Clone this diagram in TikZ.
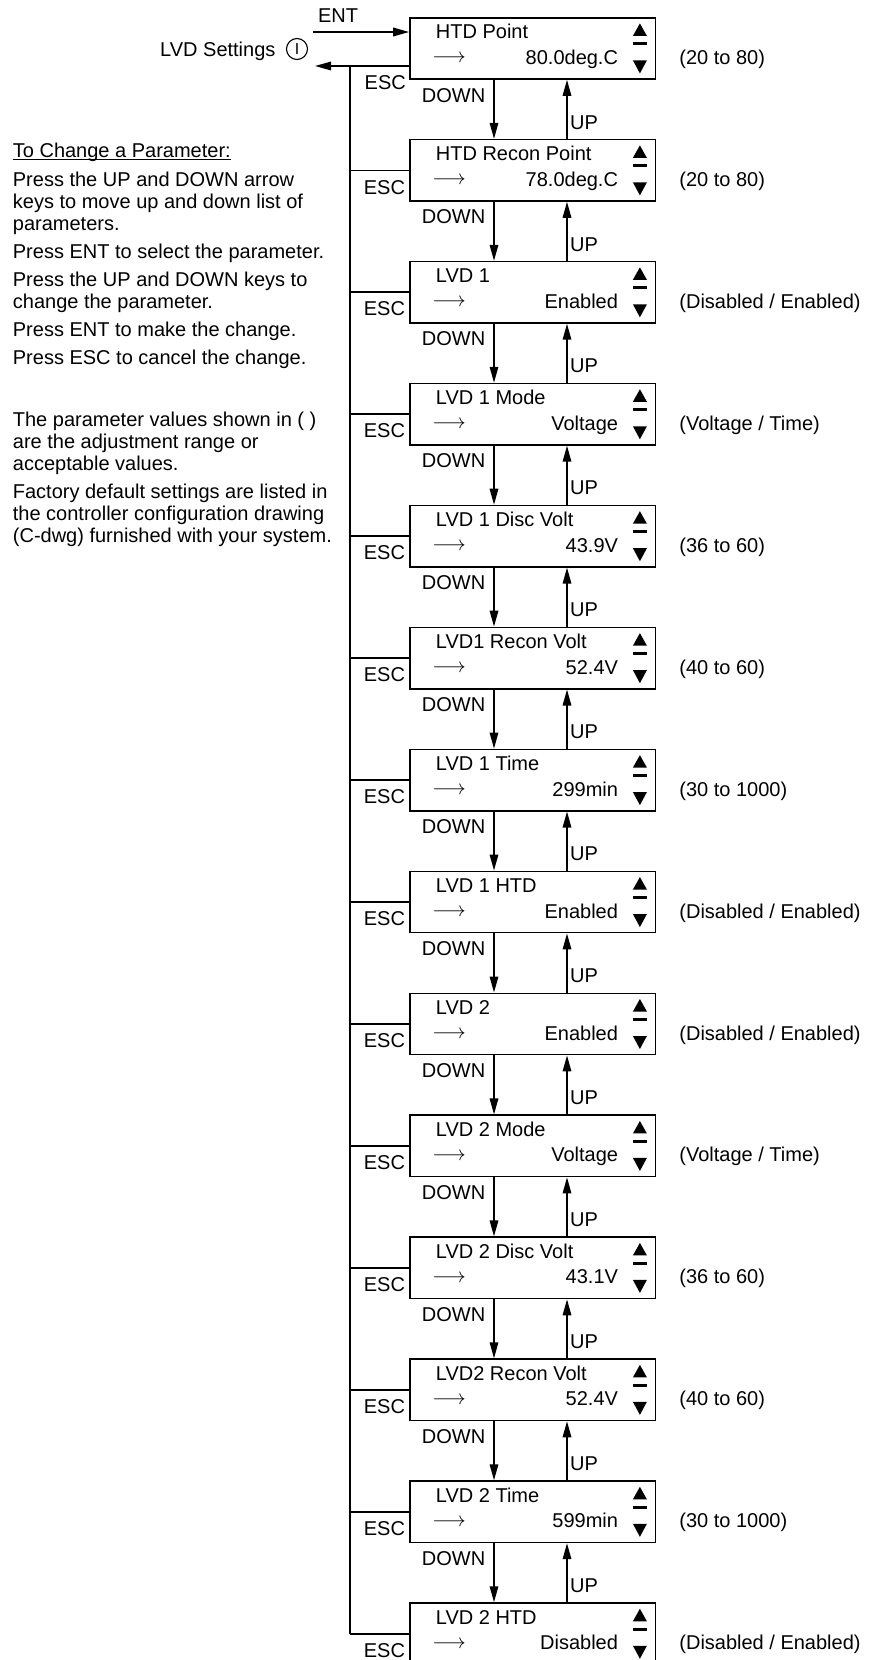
\documentclass[tikz,border=0pt]{standalone}
\usepackage{fontspec}
\setmainfont{Liberation Sans}
\usetikzlibrary{arrows.meta,calc}
\begin{document}
\begin{tikzpicture}[x=1pt,y=-1pt,
  every node/.style={inner sep=0pt, font=\fontsize{20}{22}\selectfont},
  pbox/.style={draw, line width=1.6pt, minimum width=245.5pt, minimum height=61.3pt, inner sep=0pt},
  conn/.style={line width=1.6pt},
  arr/.style={line width=1.6pt, -{Triangle[length=16pt,width=8.5pt]}},
  txt/.style={anchor=base west},
  rtxt/.style={anchor=base east},
  glyph/.style={anchor=base west, font=\fontsize{20.5}{22}\selectfont}]
\useasboundingbox (0,0) rectangle (869,1660);
\clip (0,0) rectangle (869,1660);

% helper coordinates
\coordinate (dx) at (494,0);
\coordinate (ux) at (567,0);
\coordinate (ex) at (350,0);
\coordinate (ent) at (313,32);
\coordinate (ret) at (315,66);

% boxes
\foreach \i/\t/\v/\r in {
  0/HTD Point/80.0deg.C/(20 to 80),
  1/HTD Recon Point/78.0deg.C/(20 to 80),
  2/LVD 1/Enabled/{(Disabled / Enabled)},
  3/LVD 1 Mode/Voltage/{(Voltage / Time)},
  4/LVD 1 Disc Volt/43.9V/(36 to 60),
  5/LVD1 Recon Volt/52.4V/(40 to 60),
  6/LVD 1 Time/299min/(30 to 1000),
  7/LVD 1 HTD/Enabled/{(Disabled / Enabled)},
  8/LVD 2/Enabled/{(Disabled / Enabled)},
  9/LVD 2 Mode/Voltage/{(Voltage / Time)},
  10/LVD 2 Disc Volt/43.1V/(36 to 60),
  11/LVD2 Recon Volt/52.4V/(40 to 60),
  12/LVD 2 Time/599min/(30 to 1000),
  13/LVD 2 HTD/Disabled/{(Disabled / Enabled)}} {
  \pgfmathsetmacro\tp{17.7+121.95*\i}
  \node[pbox] (b\i) at (532.75,\tp+30.65) {};
  \node[txt] (t\i) at ($(b\i.north west)+(26.5,22)$) {\t};
  \node[glyph] (a\i) at ($(b\i.north west)+(23,46)$) {$\longrightarrow$};
  \node[rtxt] (v\i) at ($(b\i.north west)+(209,47.5)$) {\v};
  \node[txt] (r\i) at ($(b\i.north west)+(270,47.5)$) {\r};
  \fill ($(b\i.north west)+(230.7,6.5)$) -- ++(7,12.5) -- ++(-14,0) -- cycle;
  \fill ($(b\i.north west)+(223.5,25.5)$) rectangle ++(14.5,3);
  \fill ($(b\i.north west)+(223.7,43.5)$) -- ++(14,0) -- ++(-7,13) -- cycle;
}

% DOWN / UP connectors
\foreach \i [evaluate=\i as \j using int(\i+1)] in {0,...,12} {
  \draw[arr] (b\i.south -| dx) -- (b\j.north -| dx);
  \draw[arr] (b\j.north -| ux) -- (b\i.south -| ux);
  \node[rtxt] (dn\i) at ($(b\i.south -| dx)+(-8.5,22.2)$) {DOWN};
  \node[txt] (up\i) at ($(b\j.north -| ux)+(3,-9.8)$) {UP};
}

% ESC connectors
\foreach \i in {1,...,13} {
  \draw[conn] (b\i.west) -- (b\i.west -| ex);
  \node[rtxt] (esc\i) at ($(b\i.west)+(-4,23.7)$) {ESC};
}
\draw[conn] (ret -| ex) -- (b13.west -| ex);

% entry / exit
\draw[arr] (ent) -- (ent -| b0.west);
\draw[arr] (b0.west |- ret) -- (ret);
\node[anchor=base] (entl) at (338,22.2) {ENT};
\node[rtxt] (esc0) at (406,89.7) {ESC};
\node[txt] (lvds) at (160,56.2) {LVD Settings};
\node[draw, circle, line width=1.1pt, minimum size=21pt, font=\fontsize{16}{16}\selectfont] (circ) at (297,49) {I};

% instructions
\node[txt] (l1) at (12.7,157) {To Change a Parameter:};
\draw[line width=1.2pt] ([yshift=-2.5pt]l1.base west) -- ([yshift=-2.5pt]l1.base east);
\node[txt] (l2) at (12.7,186) {Press the UP and DOWN arrow};
\node[txt] (l3) at (12.7,208) {keys to move up and down list of};
\node[txt] (l4) at (12.7,230) {parameters.};
\node[txt] (l5) at (12.7,258) {Press ENT to select the parameter.};
\node[txt] (l6) at (12.7,286) {Press the UP and DOWN keys to};
\node[txt] (l7) at (12.7,308) {change the parameter.};
\node[txt] (l8) at (12.7,336) {Press ENT to make the change.};
\node[txt] (l9) at (12.7,364) {Press ESC to cancel the change.};
\node[txt] (l10) at (12.7,426) {The parameter values shown in ( )};
\node[txt] (l11) at (12.7,448) {are the adjustment range or};
\node[txt] (l12) at (12.7,470) {acceptable values.};
\node[txt] (l13) at (12.7,498) {Factory default settings are listed in};
\node[txt] (l14) at (12.7,520) {the controller configuration drawing};
\node[txt] (l15) at (12.7,542) {(C-dwg) furnished with your system.};
\end{tikzpicture}
\end{document}
